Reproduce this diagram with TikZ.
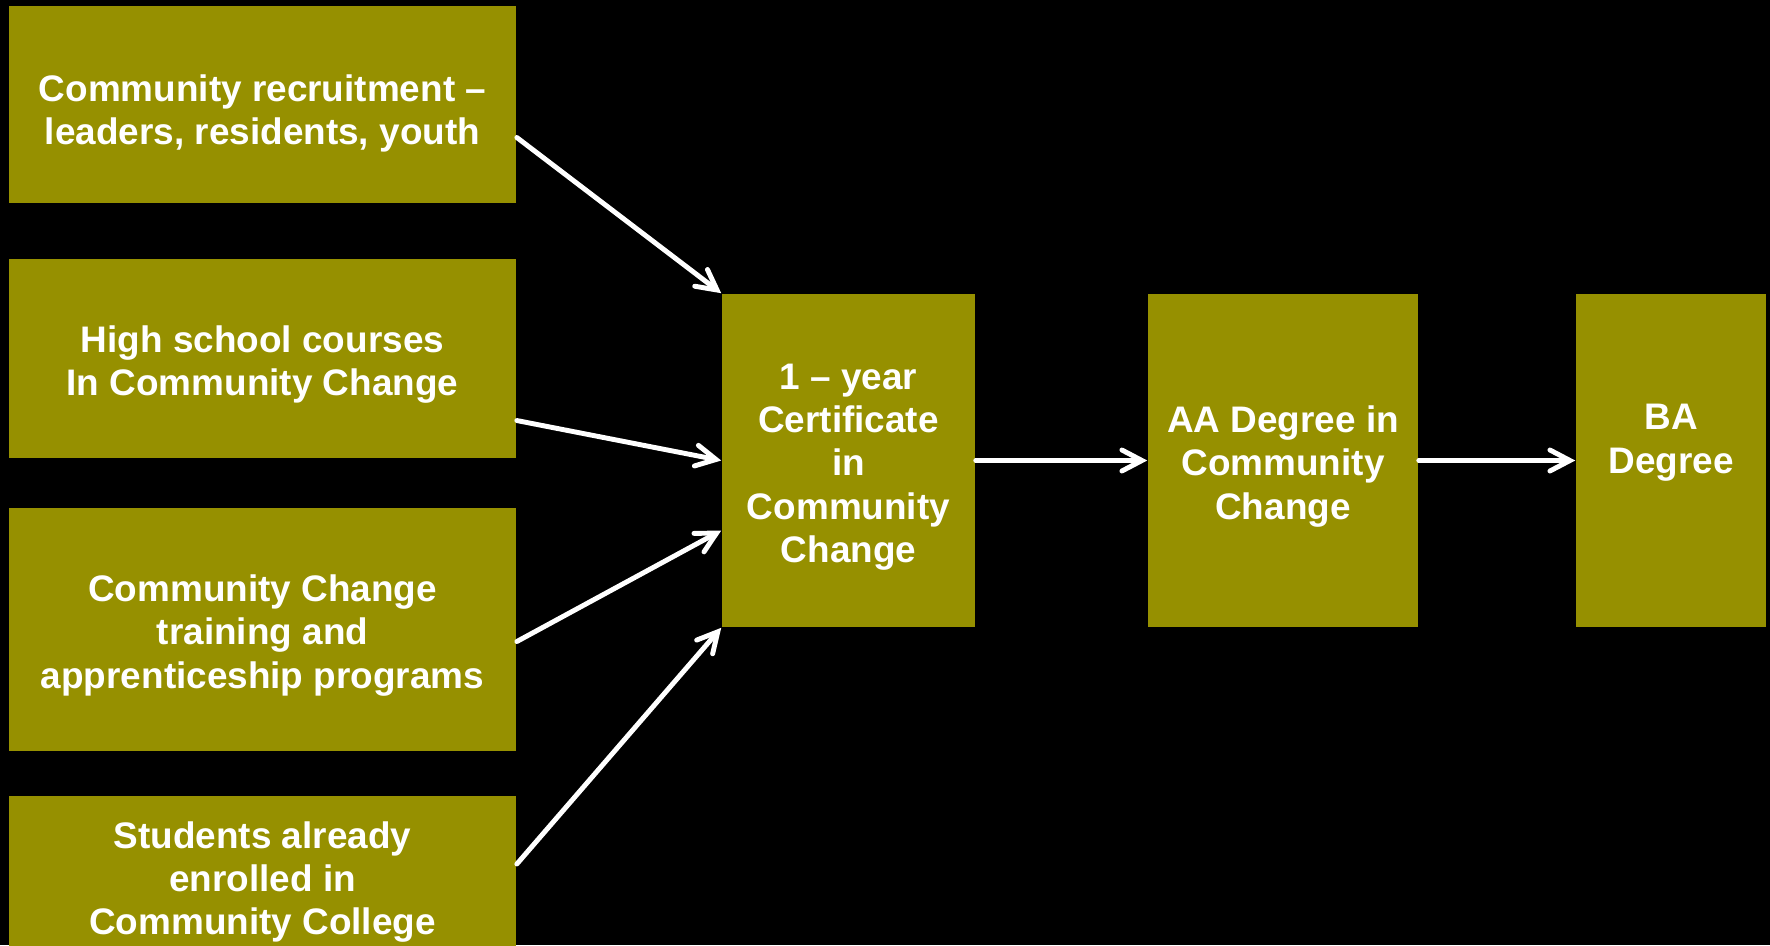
\documentclass[tikz,border=0pt]{standalone}
\usepackage{fontspec}
\setmainfont{Liberation Sans}
\usepackage{tikz}
\usetikzlibrary{arrows.meta}
\definecolor{olivebox}{RGB}{150,144,0}
% a little head room above the first line of each box
\newcommand{\headroom}{\rule{0pt}{11pt}}
\tikzset{
  stage/.style={rectangle, fill=olivebox, text=white, align=center, inner sep=0pt,
    font=\bfseries\fontsize{10.5}{12.3}\selectfont},
  feed/.style={white, line width=1.4pt, line cap=round,
    -{Straight Barb[length=2mm,width=2.1mm,line cap=round]}}
}

\begin{document}
\begin{tikzpicture}[x=0.01cm, y=-0.01cm]
            % page and background
            \clip (0,0) rectangle (1770,945);
            \fill[black] (0,0) rectangle (1770,945);

            % entry routes on the left
            \node (rec) at (262.5,104.5) [stage, minimum width=5.07cm, minimum height=1.97cm]{\rule{0pt}{12.5pt}Community recruitment --\\leaders, residents, youth};
            \node (hs) at (262.5,358.5) [stage, minimum width=5.07cm, minimum height=1.99cm]{\headroom High school courses\\In Community Change};
            \node (train) at (262.5,629.5) [stage, minimum width=5.07cm, minimum height=2.43cm]{\headroom Community Change\\training and\\apprenticeship programs};
            \node (stud) at (262.5,876) [stage, minimum width=5.07cm, minimum height=1.6cm]{\headroom Students already\\enrolled in\\Community College};

            % the three steps
            \node (cert) at (848.5,460.5) [stage, minimum width=2.53cm, minimum height=3.33cm]{\headroom 1 -- year\\Certificate\\in\\Community\\Change};
            \node (aa) at (1283,460.5) [stage, minimum width=2.7cm, minimum height=3.33cm]{\headroom AA Degree in\\Community\\Change};
            \node (ba) at (1671,460.5) [stage, minimum width=1.9cm, minimum height=3.33cm]{BA\\Degree\\\mbox{}};

            % routes into the certificate
            \draw[feed] ([yshift=-0.33cm]rec.east) -- (cert.north west);
            \draw[feed] ([yshift=-0.62cm]hs.east) -- (cert.west);
            \draw[feed] ([yshift=-0.12cm]train.east) -- ([yshift=-0.7cm]cert.west);
            \draw[feed] ([yshift=0.12cm]stud.east) -- (cert.south west);

            % certificate to degrees
            \draw[feed] (cert.east) -- (aa.west);
            \draw[feed] (aa.east) -- (ba.west);
\end{tikzpicture}
\end{document}
